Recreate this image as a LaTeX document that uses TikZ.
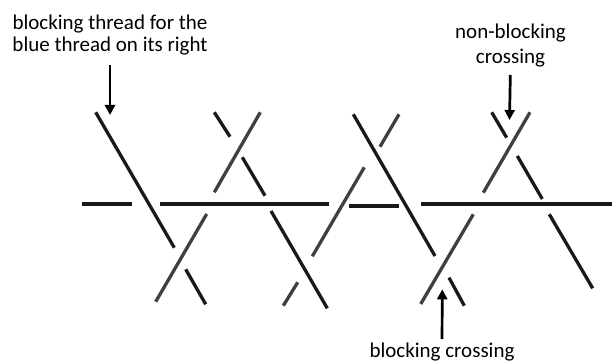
\documentclass[tikz,border=0pt]{standalone}
\usepackage{fontspec}
\setmainfont{Carlito}
\usetikzlibrary{arrows.meta}

\begin{document}
\begin{tikzpicture}[x=1pt,y=-1pt,
    filo/.style={line width=3.3pt,black!90},
    filogrigio/.style={line width=3.3pt,black!75},
    freccia/.style={line width=2.7pt,-{Triangle[width=10pt,length=10pt]}},
    etichetta/.style={align=center,inner sep=0pt,anchor=north,font=\fontsize{21}{22.3}\selectfont}]
        \useasboundingbox (0,0) rectangle (612,363);
        % Filo orizzontale
        \foreach \xa/\ya/\xb/\yb in {81.7/204/132.3/204, 160/204/329.3/204,
                                      349/206/399/206, 420.7/204/612/204}
          \draw[filo] (\xa,\ya) -- (\xb,\yb);
        % Fili discendenti
        \foreach \xa/\ya/\xb/\yb in {95.7/112.3/174.3/247.7, 185.7/269.3/205.7/304.3,
                                      214.3/112.3/230/136.7, 242.3/157.3/265/195.7, 271/211/327.3/308.3,
                                      353.3/114.3/435/256, 449/277.7/464.3/305.7,
                                      491.7/112.3/506.7/137.7, 517.3/156/542.3/199, 549.3/214.3/592.7/288.3}
          \draw[filo] (\xa,\ya) -- (\xb,\yb);
        % Fili ascendenti
        \foreach \xa/\ya/\xb/\yb in {155.7/301.7/206.7/214, 214.3/192.3/260.3/112.3,
                                      283.3/305.7/297.7/282.3, 312.3/256.3/364.3/167.3, 380/146.7/399/114.3,
                                      420.7/304/473.3/214.3, 483.3/192.7/530/112.3}
          \draw[filogrigio] (\xa,\ya) -- (\xb,\yb);
        % Annotazioni
        \node[etichetta] (filobloc) at (110,14.3) {blocking thread for the\\blue thread on its right};
        \node[etichetta,font=\fontsize{21}{24.4}\selectfont] (nonbloc) at (510.5,23.9) {non-blocking\\crossing};
        \node[etichetta] (incrbloc) at (442,343) {blocking crossing};
        \coordinate (puntafilo) at (110,115);
        \coordinate (puntanon) at (509.5,120);
        \coordinate (puntaincr) at (442.3,289.3);
        \draw[freccia,shorten <=4pt] (incrbloc.north) -- (puntaincr);
        \draw[freccia,shorten <=10pt] (filobloc.south) -- (puntafilo);
        \draw[freccia,shorten <=8pt] (nonbloc.south) -- (puntanon);
    \end{tikzpicture}
\end{document}
